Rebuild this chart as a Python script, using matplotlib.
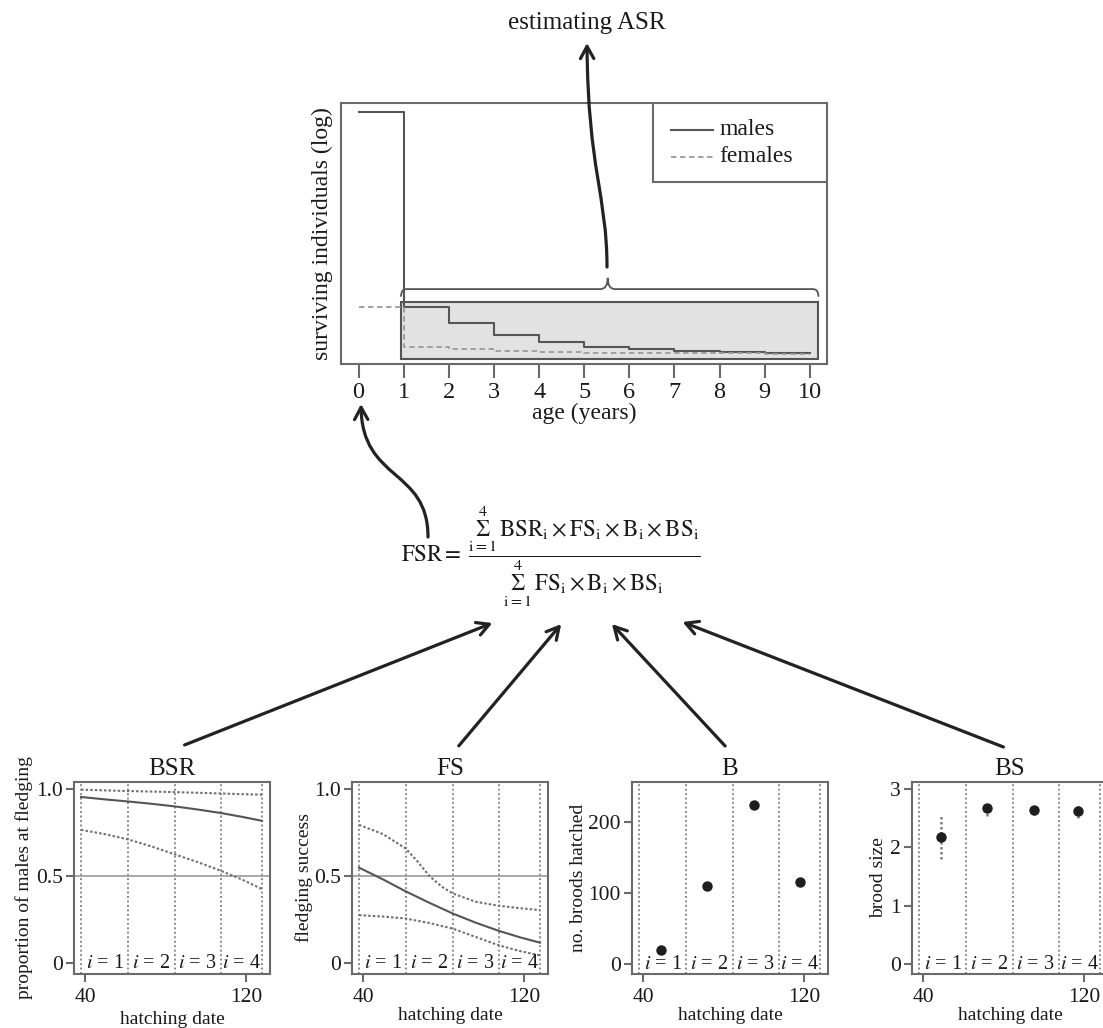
import numpy as np
import matplotlib
matplotlib.use('Agg')
import matplotlib.pyplot as plt
from matplotlib.patches import FancyArrowPatch, PathPatch, Rectangle
from matplotlib.path import Path

plt.rcParams['font.family'] = ['Liberation Serif', 'DejaVu Serif']
plt.rcParams['mathtext.fontset'] = 'stix'

# ── data ─────────────────────────────────────────────────────────────────────
AGE = [0, 1, 2, 3, 4, 5, 6, 7, 8, 9, 10]
# surviving individuals on an arbitrary log scale (0-100 = axis height)
MALES = [96.4, 22.0, 15.6, 11.1, 8.3, 6.6, 5.6, 5.1, 4.7, 4.2, 4.2]
FEMALES = [21.7, 6.6, 5.6, 5.1, 4.7, 4.35, 4.2, 4.1, 4.1, 4.0, 4.0]
SERIES_NAMES = ['males', 'females']

PERIOD_EDGES = [38, 61.5, 84.5, 107.5, 128]
PERIOD_LABELS = ['$i$ = 1', '$i$ = 2', '$i$ = 3', '$i$ = 4']

BSR_DAY = [38, 50, 61.5, 73, 84.5, 96, 107.5, 118, 128]
BSR_FIT = [0.954, 0.94, 0.928, 0.915, 0.90, 0.882, 0.862, 0.84, 0.817]
BSR_UPR = [0.996, 0.992, 0.988, 0.985, 0.982, 0.978, 0.974, 0.97, 0.967]
BSR_LWR = [0.765, 0.74, 0.71, 0.67, 0.625, 0.58, 0.53, 0.48, 0.425]

FS_DAY = [38, 50, 61, 73, 84.5, 96, 107.5, 118, 128]
FS_FIT = [0.548, 0.48, 0.413, 0.346, 0.285, 0.232, 0.185, 0.148, 0.117]
FS_LWR = [0.275, 0.267, 0.256, 0.23, 0.198, 0.15, 0.102, 0.069, 0.044]
FS_UPR_DAY = [38, 50, 61, 67, 73, 79, 84.5, 96, 107.5, 118, 128]
FS_UPR = [0.794, 0.74, 0.66, 0.585, 0.50, 0.44, 0.40, 0.352, 0.329, 0.315, 0.304]

B_DAY = [49, 72, 95, 118]
B_COUNT = [20, 110, 223, 115]

BS_DAY = [49, 72, 95, 117]
BS_MEAN = [2.17, 2.68, 2.64, 2.63]
BS_LO = [1.80, 2.54, 2.56, 2.51]
BS_HI = [2.54, 2.77, 2.73, 2.74]

# ── styling ──────────────────────────────────────────────────────────────────
W, H = 1103, 1028
DARK = '#555555'
SPINE = '#6a6a6a'
GRID = '#8c8c8c'
TXT = '#1a1a1a'

fig = plt.figure(figsize=(W / 100, H / 100), dpi=100)
fig.patch.set_facecolor('white')


def px_axes(left, top, right, bottom):
    return fig.add_axes([left / W, 1 - bottom / H, (right - left) / W, (bottom - top) / H])


def style_box(ax, lw=1.5):
    for sp in ax.spines.values():
        sp.set_edgecolor(SPINE)
        sp.set_linewidth(lw)


# ── top panel: survival by age ───────────────────────────────────────────────
ax0 = px_axes(341, 103, 827, 364)
style_box(ax0)
ax0.add_patch(Rectangle((0.94, 1.8), 10.19 - 0.94, 23.8 - 1.8,
                        facecolor='#e2e2e2', edgecolor=DARK, linewidth=1.5, zorder=1))
l_m, = ax0.plot(AGE, MALES, drawstyle='steps-post', color=DARK, lw=1.5, zorder=3)
l_f, = ax0.plot(AGE, FEMALES, drawstyle='steps-post', color='#9a9a9a', lw=1.3,
                dashes=(3, 2), zorder=3)

# curly brace above the shaded span
bx0, bx1, bxp, yb, yp, ye = 0.94, 10.19, 5.52, 28.7, 33.0, 25.8
verts = [(bx0, ye), (bx0, yb), (bx0 + 0.12, yb),
         (bxp - 0.16, yb), (bxp, yb), (bxp, yp),
         (bxp, yb), (bxp + 0.16, yb),
         (bx1 - 0.12, yb), (bx1, yb), (bx1, ye)]
codes = [Path.MOVETO, Path.CURVE3, Path.CURVE3,
         Path.LINETO, Path.CURVE3, Path.CURVE3,
         Path.CURVE3, Path.CURVE3,
         Path.LINETO, Path.CURVE3, Path.CURVE3]
ax0.add_patch(PathPatch(Path(verts, codes), facecolor='none', edgecolor=DARK, lw=1.3))

ax0.set_xlim(-0.39, 10.38)
ax0.set_ylim(0, 100)
ax0.set_xticks(AGE)
ax0.set_yticks([])
ax0.tick_params(axis='x', direction='out', length=10, width=1.5, color=SPINE,
                labelsize=17.5, labelcolor=TXT, pad=3)
ax0.set_xlabel('age (years)', fontsize=17, color=TXT, labelpad=0)
ax0.set_ylabel('surviving individuals (log)', fontsize=17, color=TXT, labelpad=6)

# legend box in the upper-right corner (axes fraction)
ax0.add_patch(Rectangle((0.641, 0.698), 0.359, 0.302, transform=ax0.transAxes,
                        facecolor='white', edgecolor=SPINE, lw=1.5, zorder=5))
for line, name, yrow in zip([l_m, l_f], SERIES_NAMES, [0.897, 0.794]):
    ax0.plot([0.678, 0.765], [yrow, yrow], transform=ax0.transAxes, color=line.get_color(),
             lw=line.get_linewidth(), linestyle=line.get_linestyle(), zorder=6)
    ax0.text(0.778, yrow, name, transform=ax0.transAxes, ha='left', va='center',
             fontsize=17, color=TXT, zorder=6)
ax0.lines[-1].set_dashes((3, 2))


# ── bottom panels ────────────────────────────────────────────────────────────
def bottom_panel(left, title, ylabel, ylim, yticks, yticklabels, ylabelpad, xlabelpad=0):
    ax = px_axes(left, 782, left + 196, 974)
    style_box(ax)
    for e in PERIOD_EDGES:
        ax.axvline(e, color=GRID, lw=1.4, linestyle=(0, (1, 1.3)), zorder=1)
    for k, lab in enumerate(PERIOD_LABELS):
        mid = (PERIOD_EDGES[k] + PERIOD_EDGES[k + 1]) / 2
        ax.text(mid, 0, lab, ha='center', va='center', fontsize=14.5, color=TXT, zorder=4)
    ax.set_xlim(34.5, 132)
    ax.set_ylim(*ylim)
    ax.set_xticks([40, 120])
    ax.set_yticks(yticks)
    ax.set_yticklabels(yticklabels)
    ax.tick_params(direction='out', length=6, width=1.5, color=SPINE,
                   labelsize=15.5, labelcolor=TXT, pad=2)
    ax.tick_params(axis='x', pad=4)
    ax.set_title(title, fontsize=18, color=TXT, pad=5)
    ax.set_xlabel('hatching date', fontsize=14, color=TXT, labelpad=xlabelpad)
    ax.set_ylabel(ylabel, fontsize=14, color=TXT, labelpad=ylabelpad)
    return ax


ax1 = bottom_panel(74, 'BSR', 'proportion of males at fledging', (-0.063, 1.04),
                   [0, 0.5, 1.0], ['0', '0.5', '1.0'], 2, xlabelpad=3)
ax1.axhline(0.5, color='#9a9a9a', lw=1.2, zorder=1)
ax1.plot(BSR_DAY, BSR_FIT, color=DARK, lw=1.5, zorder=3)
ax1.plot(BSR_DAY, BSR_UPR, color='#707070', lw=1.5, linestyle=(0, (1.2, 1)), zorder=3)
ax1.plot(BSR_DAY, BSR_LWR, color='#707070', lw=1.5, linestyle=(0, (1.2, 1)), zorder=3)

ax2 = bottom_panel(352, 'FS', 'fledging success', (-0.063, 1.04),
                   [0, 0.5, 1.0], ['0', '0.5', '1.0'], 1)
ax2.axhline(0.5, color='#9a9a9a', lw=1.2, zorder=1)
ax2.plot(FS_DAY, FS_FIT, color=DARK, lw=1.5, zorder=3)
ax2.plot(FS_UPR_DAY, FS_UPR, color='#707070', lw=1.5, linestyle=(0, (1.2, 1)), zorder=3)
ax2.plot(FS_DAY, FS_LWR, color='#707070', lw=1.5, linestyle=(0, (1.2, 1)), zorder=3)

ax3 = bottom_panel(632, 'B', 'no. broods hatched', (-14, 256),
                   [0, 100, 200], ['0', '100', '200'], 1)
ax3.plot(B_DAY, B_COUNT, 'o', color='#1e1e1e', markersize=6.5, zorder=3)

ax4 = bottom_panel(912, 'BS', 'brood size', (-0.17, 3.12),
                   [0, 1, 2, 3], ['0', '1', '2', '3'], 2)
ax4.vlines(BS_DAY, BS_LO, BS_HI, color='#808080', lw=1.8, linestyle=(0, (1, 1)), zorder=2)
ax4.plot(BS_DAY, BS_MEAN, 'o', color='#1e1e1e', markersize=6.5, zorder=3)

# ── overlay: arrows, formula, caption (pixel coordinates) ────────────────────
ov = fig.add_axes([0, 0, 1, 1], facecolor='none')
ov.set_xlim(0, W)
ov.set_ylim(H, 0)
ov.axis('off')
ov.set_zorder(10)

ov.text(587, 23, 'estimating ASR', ha='center', va='center', fontsize=18, color=TXT)

arrow_kw = dict(arrowstyle='->,head_length=0.55,head_width=0.3', mutation_scale=16,
                color='#222222', lw=2.3)

# arrow from the brace to the caption
p = Path([(607, 267), (607, 195), (588, 170), (587, 43)],
         [Path.MOVETO, Path.CURVE4, Path.CURVE4, Path.CURVE4])
ov.add_patch(FancyArrowPatch(path=p, **arrow_kw))

# arrow from the formula to age 0
p = Path([(428, 537), (428, 468), (362, 482), (361, 404)],
         [Path.MOVETO, Path.CURVE4, Path.CURVE4, Path.CURVE4])
ov.add_patch(FancyArrowPatch(path=p, **arrow_kw))

# straight arrows from the four panels to the formula
for tail, head in [((182, 746), (495, 622)), ((457, 748), (563, 622)),
                   ((727, 748), (610, 622)), ((1006, 748), (680, 621))]:
    ov.add_patch(FancyArrowPatch(tail, head, **arrow_kw))

SUM = r'\underset{\mathrm{i=1}}{\overset{4}{\Sigma}}'
formula = (r'$\mathrm{FSR} = \;\dfrac{' + SUM + r'\,\mathrm{BSR_i}\times\mathrm{FS_i}'
           r'\times\mathrm{B_i}\times\mathrm{BS_i}}{' + SUM + r'\,\mathrm{FS_i}'
           r'\times\mathrm{B_i}\times\mathrm{BS_i}}$')
ov.text(551, 556, formula, ha='center', va='center', fontsize=16.5, color=TXT)

fig.savefig('out.png', dpi=100, facecolor='white')
